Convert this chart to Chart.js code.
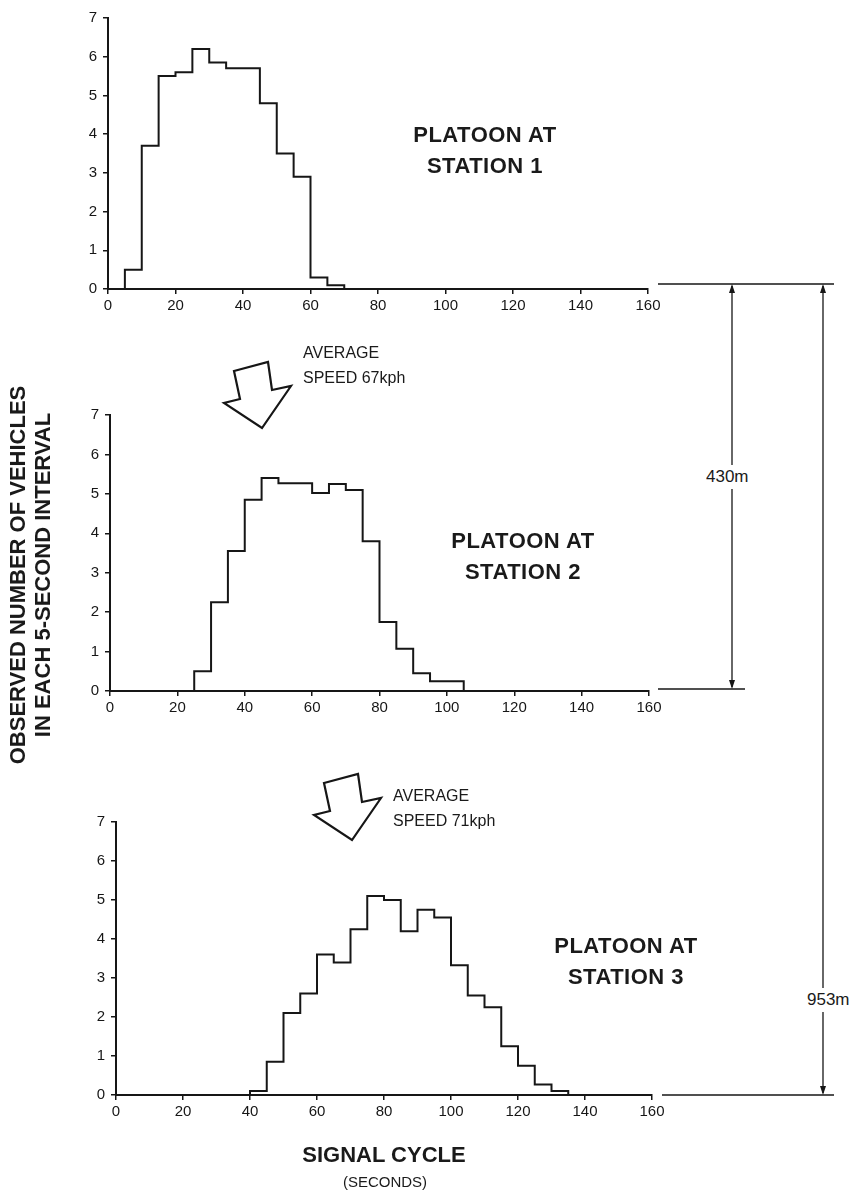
<!DOCTYPE html>
<html>
<head>
<meta charset="utf-8">
<script src="https://cdn.jsdelivr.net/npm/chart.js@4.4.1/dist/chart.umd.min.js"></script>
<style>
  html, body { margin: 0; padding: 0; background: #fff; }
  #page { position: relative; width: 860px; height: 1193px; overflow: hidden; font-family: 'Liberation Sans', Arial, sans-serif; color: #1a1a1a; }
  .panel { position: absolute; left: 0; width: 860px; }
  #overlay { position: absolute; left: 0; top: 0; pointer-events: none; }
  .lbl { position: absolute; white-space: nowrap; }
  .title { font-weight: bold; font-size: 22px; line-height: 31px; text-align: center; letter-spacing: 0.5px; }
  .speed { font-size: 16px; line-height: 25px; }
  .dim { font-size: 17px; background: #fff; padding: 2px 0; }
  .ylab { font-weight: bold; font-size: 22px; line-height: 25px; text-align: center; transform: rotate(-90deg); transform-origin: center center; }
</style>
</head>
<body>
<div id="page">
  <div class="panel" style="top:0px;height:320px"><canvas id="c1" width="860" height="320"></canvas></div>
  <div class="panel" style="top:380px;height:340px"><canvas id="c2" width="860" height="340"></canvas></div>
  <div class="panel" style="top:790px;height:340px"><canvas id="c3" width="860" height="340"></canvas></div>
  <canvas id="overlay" width="860" height="1193"></canvas>

  <div class="lbl title" style="left:395px;top:119px;width:180px">PLATOON AT<br>STATION 1</div>
  <div class="lbl title" style="left:433px;top:525px;width:180px">PLATOON AT<br>STATION 2</div>
  <div class="lbl title" style="left:536px;top:930px;width:180px">PLATOON AT<br>STATION 3</div>

  <div class="lbl speed" style="left:303px;top:340px">AVERAGE<br>SPEED 67kph</div>
  <div class="lbl speed" style="left:393px;top:783px">AVERAGE<br>SPEED 71kph</div>

  <div class="lbl dim" style="left:706px;top:465px">430m</div>
  <div class="lbl dim" style="left:807px;top:988px">953m</div>

  <div class="lbl ylab" style="left:-180px;top:550px;width:420px">OBSERVED NUMBER OF VEHICLES<br>IN EACH 5-SECOND INTERVAL</div>

  <div class="lbl" style="left:284px;top:1142px;width:200px;text-align:center;font-weight:bold;font-size:22px">SIGNAL CYCLE</div>
  <div class="lbl" style="left:285px;top:1173px;width:200px;text-align:center;font-size:15px">(SECONDS)</div>
</div>

<script>
// vehicles per 5-second bin, first bin starts at 0 s
const binWidth = 5;
const station1 = [0, 0.5, 3.7, 5.5, 5.6, 6.2, 5.85, 5.7, 5.7, 4.8, 3.5, 2.9, 0.3, 0.1];
const station2 = [0, 0, 0, 0, 0, 0.5, 2.25, 3.55, 4.85, 5.4, 5.27, 5.27, 5.02, 5.25, 5.1, 3.8, 1.75, 1.07, 0.45, 0.25, 0.25];
const station3 = [0, 0, 0, 0, 0, 0, 0, 0, 0.1, 0.85, 2.1, 2.6, 3.6, 3.4, 4.25, 5.1, 5.0, 4.2, 4.75, 4.55, 3.33, 2.55, 2.25, 1.25, 0.75, 0.27, 0.1];

const xMax = 160;   // seconds
const xStep = 20;
const yMax = 7;     // vehicles

const ink = '#161616';

function stepPoints(values) {
  const pts = values.map((v, i) => ({ x: i * binWidth, y: v }));
  pts.push({ x: values.length * binWidth, y: 0 });
  return pts;
}

// box = chart area inside its canvas: left, right, top, bottom
function makePanel(id, values, box, canvasH) {
  return new Chart(document.getElementById(id), {
    type: 'line',
    data: {
      datasets: [{
        data: stepPoints(values),
        stepped: 'before',
        borderColor: ink,
        borderWidth: 2,
        pointRadius: 0,
        fill: false
      }]
    },
    options: {
      responsive: false,
      animation: false,
      events: [],
      layout: { padding: { left: 0, right: 860 - box.right, top: box.top, bottom: 0 } },
      plugins: { legend: { display: false }, tooltip: { enabled: false } },
      scales: {
        x: {
          type: 'linear',
          min: 0,
          max: xMax,
          grid: { drawOnChartArea: false, color: ink, tickLength: 5, lineWidth: 1.5 },
          border: { display: true, color: ink, width: 2 },
          ticks: { stepSize: xStep, color: ink, padding: 3, font: { family: "'Liberation Sans', sans-serif", size: 15 } },
          afterFit: s => { s.height = canvasH - box.bottom; }
        },
        y: {
          min: 0,
          max: yMax,
          grid: { drawOnChartArea: false, color: ink, tickLength: 5, lineWidth: 1.5 },
          border: { display: true, color: ink, width: 2 },
          ticks: { stepSize: 1, color: ink, padding: 6, font: { family: "'Liberation Sans', sans-serif", size: 15 } },
          afterFit: s => { s.width = box.left; }
        }
      }
    }
  });
}

const chart1 = makePanel('c1', station1, { left: 108, right: 648, top: 18, bottom: 289 }, 320);
const chart2 = makePanel('c2', station2, { left: 110, right: 649, top: 35, bottom: 311 }, 340);
const chart3 = makePanel('c3', station3, { left: 116, right: 652, top: 32, bottom: 305 }, 340);

// decorations: speed arrows and distance dimension lines
const ov = document.getElementById('overlay').getContext('2d');
ov.strokeStyle = ink;
ov.fillStyle = ink;

function blockArrow(dx, dy) {
  const p = [[234, 371], [268, 362], [272, 390], [291, 386], [262, 428], [224, 403], [240, 399]];
  ov.save();
  ov.lineWidth = 2.2;
  ov.lineJoin = 'miter';
  ov.beginPath();
  p.forEach(([x, y], i) => i ? ov.lineTo(x + dx, y + dy) : ov.moveTo(x + dx, y + dy));
  ov.closePath();
  ov.stroke();
  ov.restore();
}
blockArrow(0, 0);
blockArrow(90, 412);

function baseY(chart, top) {
  return top + chart.scales.y.getPixelForValue(0);
}
const y1 = baseY(chart1, 0) - 5;
const y2 = baseY(chart2, 380) - 2;
const y3 = baseY(chart3, 790);

function hLine(x0, x1, y) {
  ov.lineWidth = 1.5;
  ov.beginPath(); ov.moveTo(x0, y); ov.lineTo(x1, y); ov.stroke();
}
function head(x, y, dir) {
  ov.beginPath();
  ov.moveTo(x, y);
  ov.lineTo(x - 3, y + dir * 9);
  ov.lineTo(x + 3, y + dir * 9);
  ov.closePath();
  ov.fill();
}
function vDim(x, ya, yb) {
  ov.lineWidth = 1.3;
  ov.beginPath(); ov.moveTo(x, ya + 2); ov.lineTo(x, yb - 2); ov.stroke();
  head(x, ya, 1);
  head(x, yb, -1);
}

hLine(658, 834, y1);
hLine(658, 745, y2);
hLine(662, 834, y3);
vDim(732, y1, y2);
vDim(823, y1, y3);
</script>
</body>
</html>
